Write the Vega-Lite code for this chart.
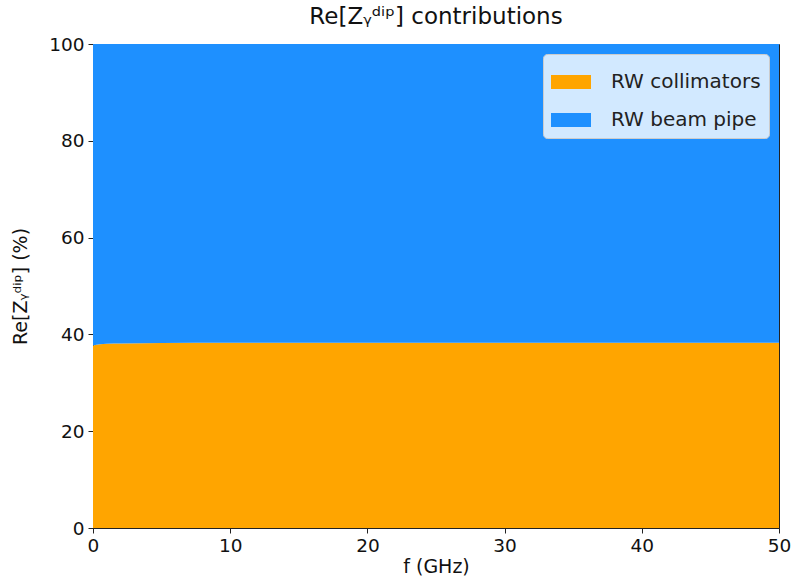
{
  "$schema": "https://vega.github.io/schema/vega-lite/v6.json",
  "width": 686,
  "height": 484,
  "autosize": {"type": "none"},
  "padding": {"left": 93, "top": 44, "right": 15, "bottom": 56},
  "background": "white",
  "title": {
    "text": "Re[Zᵧᵈⁱᵖ] contributions",
    "font": "DejaVu Sans",
    "fontSize": 23,
    "fontWeight": "normal",
    "color": "#111111",
    "anchor": "middle",
    "offset": 6
  },
  "config": {
    "view": {"stroke": "#222222", "strokeWidth": 1},
    "axis": {
      "labelFont": "DejaVu Sans",
      "titleFont": "DejaVu Sans",
      "labelFontSize": 18.5,
      "titleFontSize": 19,
      "titleFontWeight": "normal",
      "labelColor": "#111111",
      "titleColor": "#111111",
      "domainColor": "#222222",
      "tickColor": "#222222",
      "tickSize": 5,
      "labelFlush": false,
      "grid": false
    }
  },
  "data": {
    "values": [
      {"f": 0, "source": "RW collimators", "share": 37.7},
      {"f": 0.5, "source": "RW collimators", "share": 37.95},
      {"f": 1, "source": "RW collimators", "share": 38.05},
      {"f": 2, "source": "RW collimators", "share": 38.12},
      {"f": 5, "source": "RW collimators", "share": 38.2},
      {"f": 10, "source": "RW collimators", "share": 38.25},
      {"f": 20, "source": "RW collimators", "share": 38.28},
      {"f": 30, "source": "RW collimators", "share": 38.3},
      {"f": 40, "source": "RW collimators", "share": 38.3},
      {"f": 50, "source": "RW collimators", "share": 38.3},
      {"f": 0, "source": "RW beam pipe", "share": 62.3},
      {"f": 0.5, "source": "RW beam pipe", "share": 62.05},
      {"f": 1, "source": "RW beam pipe", "share": 61.95},
      {"f": 2, "source": "RW beam pipe", "share": 61.88},
      {"f": 5, "source": "RW beam pipe", "share": 61.8},
      {"f": 10, "source": "RW beam pipe", "share": 61.75},
      {"f": 20, "source": "RW beam pipe", "share": 61.72},
      {"f": 30, "source": "RW beam pipe", "share": 61.7},
      {"f": 40, "source": "RW beam pipe", "share": 61.7},
      {"f": 50, "source": "RW beam pipe", "share": 61.7}
    ]
  },
  "mark": {"type": "area", "interpolate": "monotone"},
  "encoding": {
    "x": {
      "field": "f",
      "type": "quantitative",
      "title": "f (GHz)",
      "scale": {"domain": [0, 50], "nice": false, "zero": false},
      "axis": {"values": [0, 10, 20, 30, 40, 50], "titlePadding": 3, "labelPadding": 3}
    },
    "y": {
      "field": "share",
      "type": "quantitative",
      "stack": "zero",
      "title": "Re[Zᵧᵈⁱᵖ] (%)",
      "scale": {"domain": [0, 100], "nice": false},
      "axis": {"values": [0, 20, 40, 60, 80, 100], "titlePadding": 18, "labelPadding": 4}
    },
    "color": {
      "field": "source",
      "type": "nominal",
      "sort": ["RW collimators", "RW beam pipe"],
      "scale": {
        "domain": ["RW collimators", "RW beam pipe"],
        "range": ["#FFA500", "#1E90FF"]
      },
      "legend": {
        "title": null,
        "orient": "top-right",
        "offset": 10,
        "fillColor": "rgba(255,255,255,0.8)",
        "strokeColor": "#cccccc",
        "cornerRadius": 4,
        "padding": 8,
        "labelFont": "DejaVu Sans",
        "labelFontSize": 20,
        "labelColor": "#222222",
        "labelOffset": 20,
        "symbolType": "M-1,-0.35H1V0.35H-1Z",
        "symbolSize": 1600,
        "symbolStrokeWidth": 0,
        "symbolOpacity": 1,
        "rowPadding": 8
      }
    },
    "order": {"field": "source", "sort": "descending"}
  }
}
